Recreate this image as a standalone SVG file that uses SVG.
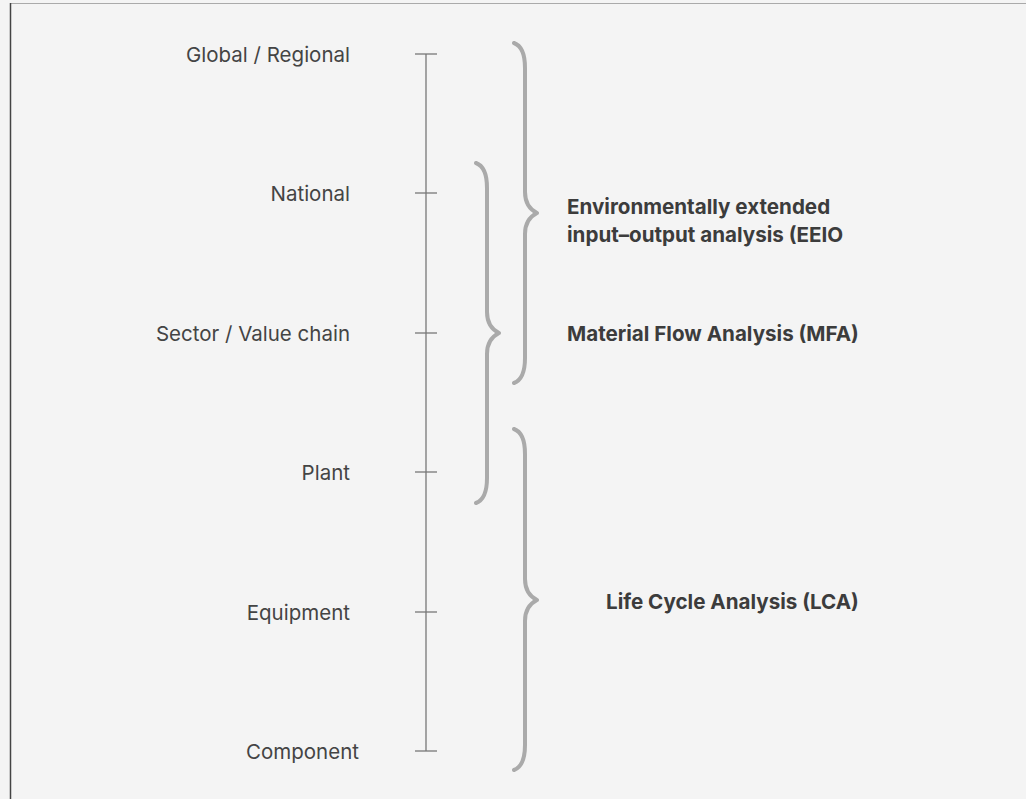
<svg xmlns="http://www.w3.org/2000/svg" width="1026" height="799" viewBox="0 0 1026 799">
<style>
.lbl{font-family:Inter,"Liberation Sans",sans-serif;font-size:20.5px;fill:#444;text-anchor:end}
.m{font-family:Inter,"Liberation Sans",sans-serif;font-size:20.6px;font-weight:700;fill:#3c3c3c}
.tick{stroke:#777;stroke-width:1.3}
.brace{fill:none;stroke:#aaa;stroke-width:4;stroke-linecap:round;stroke-linejoin:round}
</style>
<rect x="0" y="0" width="1026" height="799" fill="#f4f4f4"/>
<line x1="10" y1="3.5" x2="1026" y2="3.5" stroke="#aaa" stroke-width="1.2"/>
<line x1="10.5" y1="3" x2="10.5" y2="799" stroke="#444" stroke-width="1.5"/>
<g id="axis">
<line class="tick" x1="426" y1="54" x2="426" y2="751"/>
<line class="tick" x1="415" y1="54" x2="437" y2="54"/>
<line class="tick" x1="415" y1="193" x2="437" y2="193"/>
<line class="tick" x1="415" y1="333" x2="437" y2="333"/>
<line class="tick" x1="415" y1="472" x2="437" y2="472"/>
<line class="tick" x1="415" y1="612" x2="437" y2="612"/>
<line class="tick" x1="415" y1="751" x2="437" y2="751"/>
</g>
<g id="scale-labels">
<text class="lbl" x="350" y="62">Global / Regional</text>
<text class="lbl" x="350" y="201">National</text>
<text class="lbl" x="350" y="341">Sector / Value chain</text>
<text class="lbl" x="350" y="480">Plant</text>
<text class="lbl" x="350" y="620">Equipment</text>
<text class="lbl" x="359" y="759">Component</text>
</g>
<g id="brace-eeio">
<path class="brace" d="M514,43 Q525,47 525,68 L525,192 Q525,207 537,213 Q525,219 525,234 L525,358 Q525,379 514,383"/>
</g>
<g id="brace-mfa">
<path class="brace" d="M476,163 Q487,167 487,188 L487,312 Q487,327 499,333 Q487,339 487,354 L487,478 Q487,499 476,503"/>
</g>
<g id="brace-lca">
<path class="brace" d="M514,429 Q525,433 525,454 L525,579 Q525,594 537,600 Q525,606 525,621 L525,745 Q525,766 514,770"/>
</g>
<g id="methods">
<text class="m" x="567" y="214">Environmentally extended</text>
<text class="m" x="567" y="242">input–output analysis (EEIO</text>
<text class="m" x="567" y="341">Material Flow Analysis (MFA)</text>
<text class="m" x="606" y="609">Life Cycle Analysis (LCA)</text>
</g>
</svg>
